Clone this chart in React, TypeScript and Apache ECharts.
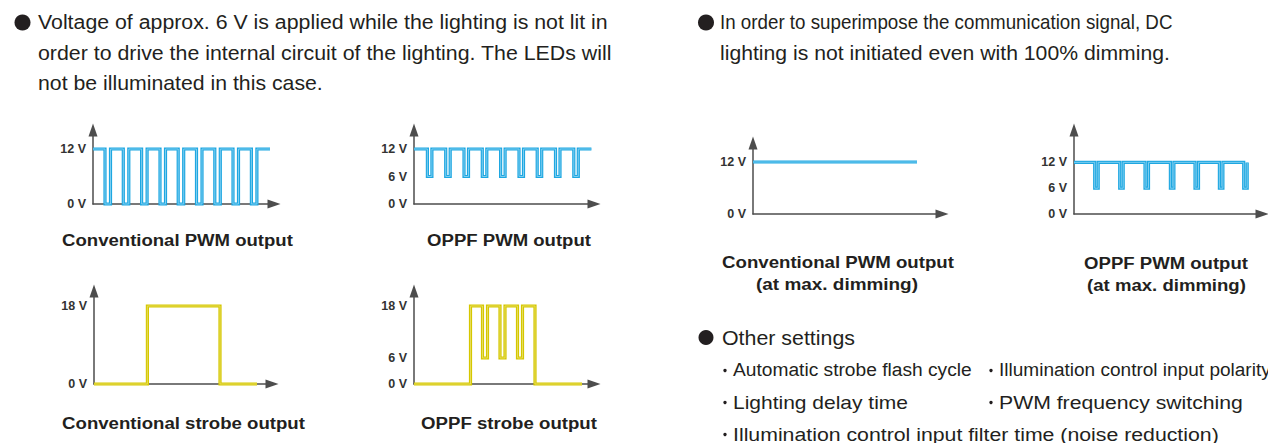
import React, { useEffect, useRef } from 'react';
import * as echarts from 'echarts';

// ---- Data: level-change points [time, volts] (time in arbitrary units) ----
const convPwm: number[][] = [
  [0, 12], [12, 0], [17.5, 12], [30.3, 0], [35.8, 12], [48.6, 0], [54.1, 12], [67, 0], [72.5, 12],
  [85.2, 0], [90.7, 12], [103.5, 0], [109, 12], [121.8, 0], [127.3, 12], [140, 0], [145.5, 12],
  [158.4, 0], [163.9, 12], [177, 12],
];
const oppfPwm: number[][] = [
  [0, 12], [13.4, 6], [17.9, 12], [31.7, 6], [36.2, 12], [50, 6], [54.5, 12], [68.3, 6], [72.8, 12],
  [86.6, 6], [91.1, 12], [105, 6], [109.5, 12], [123.2, 6], [127.7, 12], [141.5, 6], [146, 12],
  [159.8, 6], [164.3, 12], [177.4, 12],
];
const convStrobe: number[][] = [[0, 0], [53.4, 18], [126, 0], [163, 0]];
const oppfStrobe: number[][] = [
  [0, 0], [56.5, 18], [68.5, 6], [73.5, 18], [86, 6], [91, 18], [103.5, 6], [108.5, 18], [121, 0], [168, 0],
];
const convPwmMax: number[][] = [[0, 12], [164, 12]];
const oppfPwmMax: number[][] = [
  [0, 12], [20.7, 6], [24.2, 12], [45.7, 6], [49.2, 12], [71, 6], [74.5, 12], [96.4, 6], [99.9, 12],
  [121, 6], [124.5, 12], [145.4, 6], [148.9, 12], [169.7, 6], [173.2, 12],
];

// Tick labels (volts)
const ticksPwm = [0, 12];
const ticksOppfPwm = [0, 6, 12];
const ticksStrobe = [0, 18];
const ticksOppfStrobe = [0, 6, 18];

const chartTitles = [
  'Conventional PWM output',
  'OPPF PWM output',
  'Conventional strobe output',
  'OPPF strobe output',
  'Conventional PWM output',
  'OPPF PWM output',
  '(at max. dimming)',
];

const leftPara = [
  'Voltage of approx. 6 V is applied while the lighting is not lit in',
  'order to drive the internal circuit of the lighting. The LEDs will',
  'not be illuminated in this case.',
];
const rightPara = [
  'In order to superimpose the communication signal, DC',
  'lighting is not initiated even with 100% dimming.',
];
const otherTitle = 'Other settings';
const otherItems = [
  'Automatic strobe flash cycle',
  'Illumination control input polarity',
  'Lighting delay time',
  'PWM frequency switching',
  'Illumination control input filter time (noise reduction)',
];

const BLUE = '#1ea7e1';
const BLUE_IN = '#7ccdf0';
const YEL = '#d5c700';
const YEL_IN = '#e6dc5a';
const AXIS = '#4d4d4d';
const TXT = '#231f20';
const FONT = '"Liberation Sans", Arial, Helvetica, sans-serif';

const panels = [
  { grid: { left: 93, top: 130, width: 181, height: 74 }, xMax: 181, yMax: 16.15, data: convPwm, ticks: ticksPwm, c: BLUE, ci: BLUE_IN },
  { grid: { left: 414, top: 130, width: 180, height: 74 }, xMax: 180, yMax: 16.15, data: oppfPwm, ticks: ticksOppfPwm, c: BLUE, ci: BLUE_IN },
  { grid: { left: 94, top: 291, width: 178, height: 93 }, xMax: 178, yMax: 21.46, data: convStrobe, ticks: ticksStrobe, c: YEL, ci: YEL_IN },
  { grid: { left: 414, top: 291, width: 180, height: 93 }, xMax: 180, yMax: 21.46, data: oppfStrobe, ticks: ticksOppfStrobe, c: YEL, ci: YEL_IN },
  { grid: { left: 753, top: 143, width: 189, height: 71 }, xMax: 189, yMax: 16.38, data: convPwmMax, ticks: ticksPwm, c: BLUE, ci: BLUE_IN },
  { grid: { left: 1074, top: 130, width: 188, height: 84 }, xMax: 188, yMax: 19.53, data: oppfPwmMax, ticks: ticksOppfPwm, c: BLUE, ci: BLUE_IN },
];

let measureCtx: CanvasRenderingContext2D | null = null;
function measure(text: string, size: number, bold: boolean) {
  if (!measureCtx) measureCtx = document.createElement('canvas').getContext('2d');
  if (!measureCtx) return 1;
  measureCtx.font = `${bold ? 'bold ' : ''}${size}px ${FONT}`;
  return measureCtx.measureText(text).width || 1;
}

// text fitted to a target width (the reference face is wider than Arial)
function txt(text: string, x: number, y: number, size: number, width: number, opts: any = {}) {
  const bold = !!opts.bold;
  const sx = width / measure(text, size, bold);
  return {
    type: 'text',
    x,
    y,
    scaleX: sx,
    silent: true,
    style: {
      text,
      fill: TXT,
      fontSize: size,
      fontFamily: FONT,
      fontWeight: bold ? 'bold' : 'normal',
      align: opts.align || 'left',
      verticalAlign: 'middle',
    },
  };
}

function dot(x: number, y: number, r: number) {
  return { type: 'circle', silent: true, shape: { cx: x, cy: y, r }, style: { fill: TXT } };
}

export default function App() {
  const ref = useRef<HTMLDivElement>(null);
  useEffect(() => {
    if (!ref.current) return;
    const chart = echarts.init(ref.current, undefined, { renderer: 'svg' });
    const grids: any[] = [];
    const xAxes: any[] = [];
    const yAxes: any[] = [];
    const series: any[] = [];
    const axisLine = {
      show: true,
      symbol: ['none', 'triangle'],
      symbolSize: [9, 13],
      lineStyle: { color: AXIS, width: 1.5 },
    };
    panels.forEach((p, i) => {
      grids.push({ ...p.grid, containLabel: false });
      xAxes.push({
        type: 'value', gridIndex: i, min: 0, max: p.xMax,
        axisLine, axisTick: { show: false }, axisLabel: { show: false }, splitLine: { show: false },
      });
      yAxes.push({
        type: 'value', gridIndex: i, min: 0, max: p.yMax,
        axisLine, axisTick: { show: false }, splitLine: { show: false },
        axisLabel: {
          show: true,
          customValues: p.ticks,
          formatter: (v: number) => (p.ticks.indexOf(v) >= 0 ? v + ' V' : ''),
          color: '#333',
          fontWeight: 'bold',
          fontSize: 12.5,
          fontFamily: FONT,
          margin: 7,
        },
      });
      [
        { w: 3.2, col: p.c, z: 3 },
        { w: 1, col: p.ci, z: 4 },
      ].forEach((l) => {
        series.push({
          type: 'line', xAxisIndex: i, yAxisIndex: i, data: p.data, step: 'end',
          showSymbol: false, symbol: 'none', clip: false, z: l.z, silent: true,
          lineStyle: { color: l.col, width: l.w, cap: 'butt', join: 'miter' },
        });
      });
    });

    const B = 20; // body text size
    const L = 17; // bold caption size
    const graphic: any[] = [
      dot(22.5, 22.5, 8),
      txt(leftPara[0], 38, 22, B, 570),
      txt(leftPara[1], 38, 53, B, 574),
      txt(leftPara[2], 38, 83, B, 285),
      dot(706, 22.5, 8),
      txt(rightPara[0], 720, 22, B, 453),
      txt(rightPara[1], 720, 53, B, 450),
      txt(chartTitles[0], 177.5, 240, L, 231, { bold: true, align: 'center' }),
      txt(chartTitles[1], 509, 240, L, 164, { bold: true, align: 'center' }),
      txt(chartTitles[2], 183.5, 423, L, 243, { bold: true, align: 'center' }),
      txt(chartTitles[3], 509, 423, L, 176, { bold: true, align: 'center' }),
      txt(chartTitles[4], 838, 262, L, 232, { bold: true, align: 'center' }),
      txt(chartTitles[6], 837, 284, L, 162, { bold: true, align: 'center' }),
      txt(chartTitles[5], 1166, 263, L, 164, { bold: true, align: 'center' }),
      txt(chartTitles[6], 1166.5, 285, L, 159, { bold: true, align: 'center' }),
      dot(706, 337.5, 7.5),
      txt(otherTitle, 722, 338, B, 133),
      dot(725, 370.5, 1.7),
      txt(otherItems[0], 733, 370, 19, 239),
      dot(991, 370.5, 1.7),
      txt(otherItems[1], 999, 370, 19, 272),
      dot(725, 402.5, 1.7),
      txt(otherItems[2], 733, 402, 19, 175),
      dot(991, 402.5, 1.7),
      txt(otherItems[3], 999, 402, 19, 244),
      dot(725, 434.5, 1.7),
      txt(otherItems[4], 733, 434, 19, 486),
    ];

    chart.setOption({
      animation: false,
      backgroundColor: '#ffffff',
      grid: grids,
      xAxis: xAxes,
      yAxis: yAxes,
      series,
      graphic,
    });
    return () => chart.dispose();
  }, []);
  return (
    <div
      ref={ref}
      style={{ position: 'absolute', left: 0, top: 0, width: 1268, height: 443 }}
    />
  );
}
